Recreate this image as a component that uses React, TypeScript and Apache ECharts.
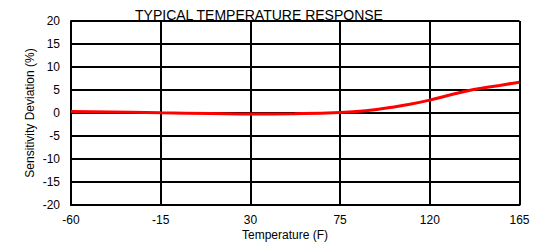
import React, { useEffect, useRef } from "react";
import * as echarts from "echarts";

const temperatures = [-60, -30, -15, 10, 30, 52, 75, 90, 100, 110, 120, 130, 142, 155, 165];
const deviation = [0.3, 0.15, 0.05, -0.1, -0.2, -0.15, 0.1, 0.6, 1.2, 1.9, 2.8, 3.9, 5.1, 6.0, 6.7];
const title = "TYPICAL TEMPERATURE RESPONSE";
const xName = "Temperature (F)";
const yName = "Sensitivity Deviation (%)";

export default function App() {
  const ref = useRef<HTMLDivElement>(null);
  useEffect(() => {
    const chart = echarts.init(ref.current!, null, { renderer: "svg" });
    const font = "Liberation Sans, Arial, sans-serif";
    chart.setOption({
      animation: false,
      backgroundColor: "#fff",
      grid: { left: 71, right: 22.5, top: 21, bottom: 37, containLabel: false },
      graphic: [
        {
          type: "text",
          x: 259,
          y: 15,
          z: -1,
          style: { text: title, font: `14px ${font}`, fill: "#000", textAlign: "center", textVerticalAlign: "middle" },
        },
        {
          type: "text",
          x: 285,
          y: 235,
          style: { text: xName, font: `12px ${font}`, fill: "#000", textAlign: "center", textVerticalAlign: "middle" },
        },
        {
          type: "text",
          x: 30,
          y: 113,
          rotation: Math.PI / 2,
          style: { text: yName, font: `12px ${font}`, fill: "#000", textAlign: "center", textVerticalAlign: "middle" },
        },
      ],
      xAxis: {
        type: "value",
        min: -60,
        max: 165,
        interval: 45,
        axisLine: { show: true, onZero: false, lineStyle: { color: "#000", width: 2 } },
        axisTick: { show: false },
        splitLine: { show: true, lineStyle: { color: "#000", width: 2 } },
        axisLabel: { color: "#000", fontSize: 12, fontFamily: font, margin: 9 },
      },
      yAxis: {
        type: "value",
        min: -20,
        max: 20,
        interval: 5,
        axisLine: { show: true, onZero: false, lineStyle: { color: "#000", width: 2 } },
        axisTick: { show: false },
        splitLine: { show: true, lineStyle: { color: "#000", width: 2 } },
        axisLabel: { color: "#000", fontSize: 12, fontFamily: font, margin: 11 },
      },
      series: [
        {
          type: "line",
          data: temperatures.map((t, i) => [t, deviation[i]]),
          smooth: true,
          showSymbol: false,
          lineStyle: { color: "#ff0000", width: 3 },
          z: 5,
        },
      ],
    });
    return () => chart.dispose();
  }, []);
  return <div ref={ref} style={{ width: 542, height: 242, position: "absolute", left: 0, top: 0 }} />;
}
